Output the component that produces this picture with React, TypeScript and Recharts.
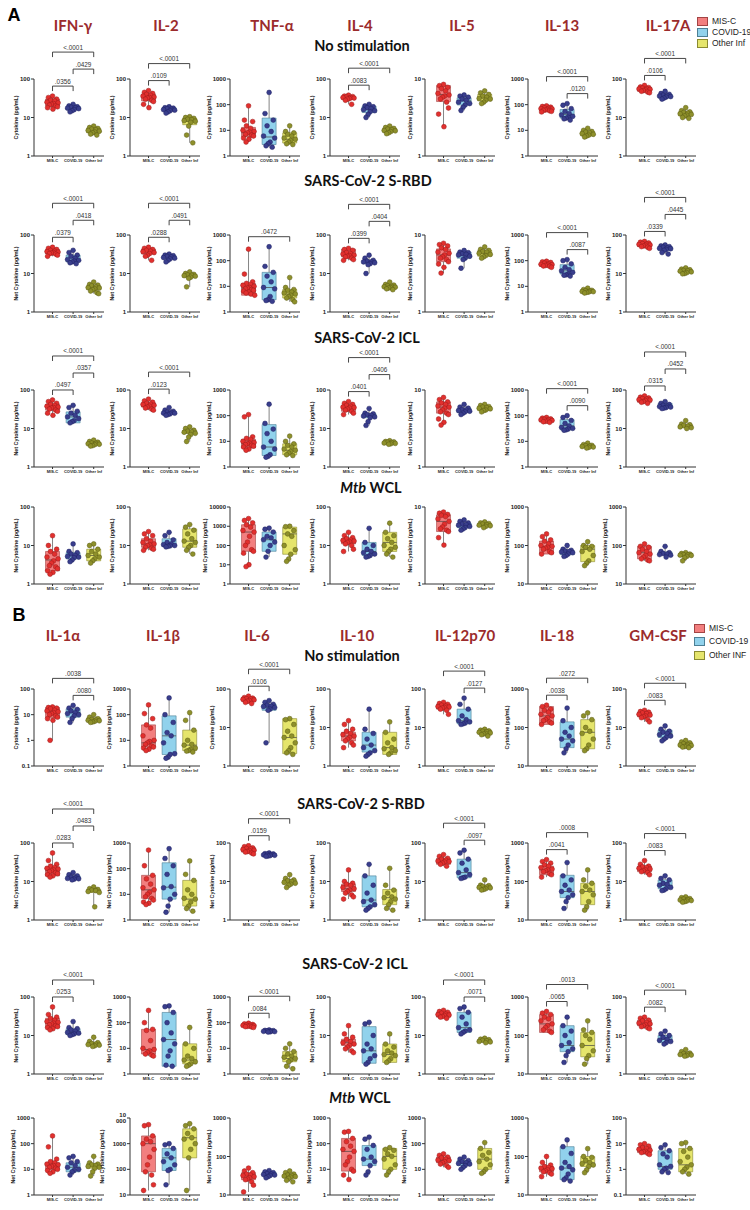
import React from 'react';
import { ComposedChart, XAxis, YAxis, Scatter, ReferenceArea, ReferenceLine } from 'recharts';

const groups = ['MIS-C', 'COVID-19', 'Other Inf'];
const cytokinesA = ['IFN-γ', 'IL-2', 'TNF-α', 'IL-4', 'IL-5', 'IL-13', 'IL-17A'];
const cytokinesB = ['IL-1α', 'IL-1β', 'IL-6', 'IL-10', 'IL-12p70', 'IL-18', 'GM-CSF'];
const stimuli = ['No stimulation', 'SARS-CoV-2 S-RBD', 'SARS-CoV-2 ICL', 'Mtb WCL'];
const legendA = ['MIS-C', 'COVID-19', 'Other Inf'];
const legendB = ['MIS-C', 'COVID-19', 'Other INF'];

type Sig = [number, number, number, string]; // cytokine, group from, group to, p value

// ---------- Panel A, no stimulation ----------
const A1_range = [[1, 100], [1, 100], [1, 1000], [1, 100], [1, 10], [1, 1000], [1, 100]];
const A1_misc = [
  [36, 33, 30, 28, 27, 25, 24, 23, 22, 21, 20, 19, 18, 16.5],
  [50, 45, 42, 40, 38, 36, 34, 33, 32, 30, 28, 26, 22, 18],
  [90, 25, 22, 15, 12, 10, 9, 8.5, 8, 7, 6.5, 6, 5, 4.5, 3.5],
  [38, 36, 35, 34, 33, 33, 32, 31, 30, 28, 22],
  [8.5, 8.2, 7.8, 7.5, 7, 6.5, 6.2, 6, 5.8, 5.5, 5, 4.2, 3.5, 2.4],
  [90, 85, 80, 75, 72, 70, 68, 65, 62, 60, 58, 55, 52],
  [68, 62, 60, 58, 56, 55, 54, 52, 50, 48, 46, 44],
];
const A1_covid = [
  [22, 20, 19, 18.5, 18, 17.5, 17, 16, 15, 14],
  [19, 18, 17.5, 17, 16.5, 16, 15.5, 15, 14, 13],
  [300, 45, 25, 15, 9, 6, 5, 3.5, 3, 2.5, 2.2],
  [22, 20, 19, 18, 17, 16, 15, 14, 12, 10],
  [6.2, 6, 5.8, 5.5, 5.3, 5, 4.8, 4.6, 4.3, 3.9],
  [110, 95, 70, 55, 45, 40, 35, 32, 30, 28, 25],
  [48, 42, 40, 38, 37, 36, 35, 34, 32, 30],
];
const A1_other = [
  [6, 5.5, 5.2, 5, 4.8, 4.6, 4.4, 4.2, 4, 3.7, 3.5],
  [10.5, 10, 9.5, 9, 8.8, 8.3, 8, 7.5, 6, 3.5, 2.2],
  [15, 9, 8, 7, 6, 5, 4.5, 4, 3.5, 3, 2.8],
  [6, 5.5, 5.2, 5, 4.8, 4.6, 4.5, 4.3, 4, 3.8],
  [7, 6.6, 6.3, 6, 5.8, 5.6, 5.5, 5.3, 5, 4.8],
  [12, 10, 9, 8.5, 8, 7.5, 7, 6.5, 6, 5.5],
  [18, 15, 14, 13.5, 13, 12.5, 12, 11.5, 11, 10, 9.5],
];
const A1_box = [
  [[20, 24, 30], [16, 18, 19.5], [4, 4.6, 5.3]],
  [[27, 33, 40], [15.5, 16.5, 18], [6.5, 8, 9.5]],
  [[5.7, 8, 13], [2.8, 5.5, 30], [3.2, 4.5, 8]],
  [[30, 33, 35], [13.5, 16, 19.5], [4.2, 4.6, 5.2]],
  [[5.1, 6.3, 8.2], [4.6, 5.2, 5.7], [5.2, 5.7, 6.3]],
  [[60, 68, 78], [30, 42, 65], [6, 7.5, 9]],
  [[48, 55, 60], [32, 36, 40], [11, 12.5, 14]],
];
const A1_sig: Sig[] = [
  [0, 0, 1, '.0356'], [0, 1, 2, '.0429'], [0, 0, 2, '<.0001'],
  [1, 0, 1, '.0109'], [1, 0, 2, '<.0001'],
  [3, 0, 1, '.0083'], [3, 0, 2, '<.0001'],
  [5, 1, 2, '.0120'], [5, 0, 2, '<.0001'],
  [6, 0, 1, '.0106'], [6, 0, 2, '<.0001'],
];

// ---------- Panel A, S-RBD ----------
const A2_range = [[1, 100], [1, 100], [1, 1000], [1, 100], [1, 10], [1, 1000], [1, 100]];
const A2_misc = [
  [48, 45, 42, 40, 38, 37, 36, 35, 34, 33, 32, 30, 28],
  [48, 45, 42, 40, 38, 37, 35, 33, 30, 28, 22],
  [280, 30, 15, 13, 12, 11, 10, 9, 8.5, 8, 7.5, 7, 6.5, 6, 5.5, 5, 4.5],
  [45, 42, 40, 35, 33, 32, 30, 29, 28, 27, 25, 23, 22],
  [7.8, 7.5, 7.2, 6.8, 6.5, 6, 5.8, 5.5, 5.2, 5, 4.8, 4.5, 4.2, 3.8, 3.2],
  [95, 90, 85, 80, 75, 72, 70, 68, 65, 62, 60, 55],
  [68, 65, 62, 60, 58, 57, 55, 54, 52, 50, 48, 45],
];
const A2_covid = [
  [40, 35, 30, 28, 25, 23, 22, 21, 20, 19, 18],
  [32, 30, 29, 28, 27, 26, 25, 24, 22, 20],
  [350, 60, 35, 25, 15, 9, 8, 4, 3, 2.8, 2.6],
  [30, 25, 22, 21, 20, 20, 19, 18, 17, 10],
  [6.3, 6, 5.9, 5.7, 5.6, 5.5, 5.3, 5, 4.8, 3.7],
  [110, 100, 75, 55, 45, 40, 35, 30, 28, 27, 25],
  [55, 52, 50, 48, 46, 45, 44, 42, 40, 35, 32],
];
const A2_other = [
  [6, 5.2, 5, 4.8, 4.5, 4.3, 4.2, 4, 3.8, 3.5, 3.2, 3],
  [11, 10, 9.5, 9.2, 9, 8.8, 8.5, 8, 7.5, 4.5],
  [22, 9, 7.5, 7, 6, 5.5, 5, 4.5, 4, 3.5, 3, 2.5],
  [6, 5.2, 5, 4.8, 4.6, 4.5, 4.4, 4.3, 4.2, 4, 3.8],
  [7, 6.5, 6.3, 6.1, 6, 5.8, 5.6, 5.4, 5.2, 5],
  [8.5, 7.5, 7, 6.8, 6.5, 6.3, 6.2, 6, 5.8, 5.5],
  [14, 13, 12.5, 12, 11.8, 11.5, 11, 10.5, 10, 9.8],
];
const A2_box = [
  [[33, 37, 42], [20, 22, 30], [3.8, 4.3, 4.8]],
  [[32, 38, 43], [24, 26, 29], [8, 8.8, 9.5]],
  [[4.5, 8.5, 13], [3, 9, 35], [3.5, 5, 7.5]],
  [[27, 30, 43], [18, 20, 22], [4.2, 4.5, 4.9]],
  [[4.5, 5.5, 6.6], [5, 5.6, 6], [5.3, 5.8, 6.3]],
  [[60, 68, 80], [30, 40, 70], [6, 6.5, 7]],
  [[50, 56, 62], [40, 45, 50], [10.5, 11.5, 12.5]],
];
const A2_sig: Sig[] = [
  [0, 0, 1, '.0379'], [0, 1, 2, '.0418'], [0, 0, 2, '<.0001'],
  [1, 0, 1, '.0288'], [1, 1, 2, '.0491'], [1, 0, 2, '<.0001'],
  [2, 0, 2, '.0472'],
  [3, 0, 1, '.0399'], [3, 1, 2, '.0404'], [3, 0, 2, '<.0001'],
  [5, 1, 2, '.0087'], [5, 0, 2, '<.0001'],
  [6, 0, 1, '.0339'], [6, 1, 2, '.0445'], [6, 0, 2, '<.0001'],
];

// ---------- Panel A, ICL ----------
const A3_range = [[1, 100], [1, 100], [1, 1000], [1, 100], [1, 10], [1, 1000], [1, 100]];
const A3_misc = [
  [55, 50, 45, 42, 40, 38, 36, 35, 34, 32, 30, 28, 25, 22],
  [58, 52, 48, 45, 43, 42, 40, 38, 36, 34, 32, 30],
  [110, 90, 15, 13, 12, 10, 9, 8.5, 8, 7.5, 7, 6.5, 6, 5, 4.5],
  [50, 45, 42, 40, 38, 36, 35, 34, 32, 30, 28, 25, 23],
  [8, 7.5, 7, 6.8, 6.5, 6.2, 6, 5.8, 5.5, 5.2, 5, 4.8, 4.2, 3.8, 3.5],
  [85, 80, 75, 72, 70, 68, 65, 62, 60, 58, 55],
  [70, 65, 62, 60, 58, 56, 55, 53, 50, 48, 45],
];
const A3_covid = [
  [40, 35, 28, 25, 22, 20, 18, 16, 15, 14],
  [35, 30, 28, 27, 26, 25, 25, 24, 23, 22],
  [280, 50, 30, 20, 10, 6, 5, 3, 2.6, 2.4],
  [33, 25, 24, 23, 22, 21, 20, 19, 15, 12],
  [6.5, 6, 5.8, 5.6, 5.5, 5.4, 5.3, 5.2, 5, 4.8],
  [100, 85, 65, 50, 40, 35, 32, 30, 28, 27],
  [50, 45, 42, 40, 38, 37, 36, 35, 34, 33],
];
const A3_other = [
  [5, 4.6, 4.4, 4.2, 4.1, 4, 3.9, 3.8, 3.6, 3.5],
  [11, 10, 9, 8.5, 8.2, 8, 7.5, 7, 6, 4.6],
  [16, 10, 8, 7, 6, 5, 4.5, 4, 3.5, 3, 2.8],
  [4.8, 4.6, 4.5, 4.4, 4.3, 4.2, 4.1, 4, 3.9],
  [6.5, 6.3, 6.1, 6, 5.9, 5.8, 5.7, 5.5, 5.4, 5.2],
  [8.5, 7.5, 7, 6.8, 6.5, 6.3, 6, 5.8, 5.5],
  [16, 13, 12.5, 12, 11.5, 11, 10.5, 10],
];
const A3_box = [
  [[30, 36, 42], [14, 20, 27], [3.9, 4.1, 4.4]],
  [[36, 40, 46], [24, 26, 28], [7.5, 8.2, 9]],
  [[5.5, 8, 12], [2.8, 6, 45], [3, 4.5, 8]],
  [[28, 35, 40], [19, 21, 24], [4.1, 4.3, 4.5]],
  [[5, 6, 7], [5.1, 5.4, 5.8], [5.4, 5.8, 6.1]],
  [[58, 65, 75], [28, 40, 70], [6, 6.5, 7]],
  [[48, 55, 60], [35, 38, 45], [10.5, 11.5, 12.5]],
];
const A3_sig: Sig[] = [
  [0, 0, 1, '.0497'], [0, 1, 2, '.0357'], [0, 0, 2, '<.0001'],
  [1, 0, 1, '.0123'], [1, 0, 2, '<.0001'],
  [3, 0, 1, '.0401'], [3, 1, 2, '.0406'], [3, 0, 2, '<.0001'],
  [5, 1, 2, '.0090'], [5, 0, 2, '<.0001'],
  [6, 0, 1, '.0315'], [6, 1, 2, '.0452'], [6, 0, 2, '<.0001'],
];

// ---------- Panel A, Mtb WCL ----------
const A4_range = [[1, 100], [1, 100], [1, 10000], [1, 100], [1, 10], [10, 1000], [10, 1000]];
const A4_misc = [
  [18, 10, 8, 7, 6, 5, 4.5, 4, 3.5, 3, 2.8, 2.5, 2.2, 2, 1.8],
  [23, 20, 18, 15, 13, 12, 11, 10.5, 10, 9, 8.5, 8, 7.5],
  [2500, 2000, 1500, 1200, 900, 600, 500, 300, 150, 100, 60, 50, 40, 10, 8],
  [22, 18, 16, 15, 14, 13.5, 13, 12.5, 12, 11, 10, 8, 7],
  [8.6, 8.3, 8, 7.8, 7.5, 7, 6.5, 6, 5.5, 5.2, 5, 4.8, 4, 3.2],
  [200, 170, 140, 130, 110, 100, 95, 90, 85, 80, 70, 65, 60],
  [110, 95, 90, 80, 70, 65, 60, 55, 50, 45, 42, 40],
];
const A4_covid = [
  [11, 7, 6.5, 6, 5.5, 5.2, 5, 4.8, 4.2, 3.8],
  [22, 18, 14, 12, 11, 10.5, 10, 9.8, 9.5, 9.2],
  [800, 700, 500, 300, 250, 200, 150, 100, 50, 25],
  [28, 12, 10, 8, 7, 6.5, 6, 5.5, 5.2, 5],
  [6.8, 6.5, 6.2, 6, 5.9, 5.8, 5.6, 5.4, 5.2, 5],
  [100, 80, 75, 72, 70, 68, 65, 60, 55, 52],
  [95, 70, 65, 62, 60, 58, 56, 50],
];
const A4_other = [
  [11, 10, 8, 7, 6, 5.5, 5, 4.5, 4, 3.5],
  [35, 30, 25, 20, 15, 13, 12, 10, 9, 7.5, 6],
  [1000, 950, 600, 400, 300, 100, 60, 35, 20, 15],
  [38, 22, 18, 15, 12, 10, 9, 8, 7, 6, 5],
  [6.4, 6.2, 6.1, 6, 5.9, 5.8, 5.7, 5.6, 5.4],
  [125, 100, 95, 90, 80, 70, 55, 40, 35, 30],
  [65, 62, 60, 58, 57, 56, 55, 52, 48, 40],
];
const A4_box = [
  [[2.2, 4.2, 7], [4.5, 5.5, 6.5], [4, 5.5, 8]],
  [[9, 11, 15], [9.5, 10.5, 15], [9, 13, 27]],
  [[50, 500, 1200], [50, 200, 500], [35, 400, 900]],
  [[11, 13, 15], [5.5, 7, 12], [7, 12, 22]],
  [[4.8, 6.5, 7.9], [5.4, 5.9, 6.2], [5.6, 5.9, 6.1]],
  [[60, 95, 130], [58, 68, 75], [38, 80, 100]],
  [[45, 65, 95], [58, 62, 68], [52, 58, 63]],
];
const A4_sig: Sig[] = [];

// ---------- Panel B, no stimulation ----------
const B1_range = [[0.1, 100], [1, 1000], [1, 100], [1, 100], [1, 100], [10, 1000], [1, 100]];
const B1_misc = [
  [20, 19, 18, 17, 15, 14, 13, 12, 11, 10, 9, 8, 7, 6, 1],
  [240, 110, 70, 40, 30, 15, 10, 9, 8, 7, 6, 5.5, 5, 4.5, 4],
  [65, 60, 58, 56, 55, 54, 52, 50, 48, 45, 42],
  [15, 12, 9, 8, 7, 6.5, 6, 5.5, 5, 4.5, 4, 3.5, 3],
  [45, 42, 40, 38, 36, 35, 34, 33, 32, 30, 28, 22],
  [380, 350, 300, 280, 250, 220, 200, 180, 160, 150, 140, 130, 120],
  [28, 26, 25, 24, 23, 22, 21, 20, 19, 18, 16, 14],
];
const B1_covid = [
  [23, 18, 16, 14, 12, 11, 10, 9, 7, 5],
  [450, 100, 50, 20, 15, 8, 3, 2.8, 2.2, 2],
  [50, 45, 40, 38, 36, 35, 33, 30, 28, 4],
  [30, 9, 7, 5, 3.5, 3, 2.5, 2.2, 2, 1.8],
  [58, 40, 30, 20, 16, 15, 14, 13, 12.5, 12],
  [320, 150, 100, 75, 60, 50, 45, 35, 28, 22],
  [11, 9, 8, 7.5, 7, 6.5, 6, 5.5, 5, 4.5],
];
const B1_other = [
  [10, 8, 7, 6.5, 6.2, 6, 5.8, 5.5, 5.2, 5],
  [120, 60, 25, 10, 7, 6.5, 5, 4.5, 4, 3.8, 3.5],
  [17, 16, 12, 8, 6, 5.5, 4, 3, 2.5, 2.2, 2],
  [14, 7.5, 5, 4, 3, 2.8, 2.5, 2.2, 2],
  [9, 8.5, 8.2, 8, 7.8, 7.5, 7.2, 7, 6.8, 6.5, 6],
  [240, 200, 160, 100, 80, 70, 50, 35, 28, 25],
  [4.6, 4.2, 4, 3.8, 3.6, 3.5, 3.4, 3.3, 3.2, 3.1, 3],
];
const B1_box = [
  [[7.5, 13, 19], [8, 12, 17], [5.5, 6, 7.5]],
  [[5.5, 8, 40], [2.8, 15, 90], [4, 6.5, 25]],
  [[48, 55, 60], [28, 34, 40], [2.1, 5.5, 17]],
  [[4.5, 6, 7.5], [2.3, 3.5, 7.5], [2, 3, 7.5]],
  [[30, 35, 40], [12.5, 15, 30], [7, 7.5, 8.5]],
  [[120, 200, 350], [30, 50, 140], [28, 75, 160]],
  [[19, 22, 25], [5.5, 7, 8.5], [3.1, 3.4, 4]],
];
const B1_sig: Sig[] = [
  [0, 1, 2, '.0080'], [0, 0, 2, '.0038'],
  [2, 0, 1, '.0106'], [2, 0, 2, '<.0001'],
  [4, 1, 2, '.0127'], [4, 0, 2, '<.0001'],
  [5, 0, 1, '.0038'], [5, 0, 2, '.0272'],
  [6, 0, 1, '.0083'], [6, 0, 2, '<.0001'],
];

// ---------- Panel B, S-RBD ----------
const B2_range = [[1, 100], [1, 1000], [1, 100], [1, 100], [1, 100], [10, 1000], [1, 100]];
const B2_misc = [
  [55, 35, 28, 25, 23, 22, 21, 20, 19, 18, 17, 16, 15, 14, 13],
  [530, 130, 55, 40, 25, 18, 15, 12, 10, 8, 7, 6, 5, 4.5, 4],
  [85, 80, 75, 72, 70, 68, 65, 63, 60, 58, 55, 52],
  [20, 10, 9, 8.5, 8, 7, 6.5, 6, 5.5, 5, 4.5, 4, 3.5],
  [50, 45, 40, 38, 36, 34, 33, 32, 30, 28, 25],
  [370, 330, 300, 270, 250, 230, 210, 200, 190, 180, 160, 150, 130],
  [35, 28, 25, 24, 23, 22, 21, 20, 19, 18, 17, 15],
];
const B2_covid = [
  [17, 15, 14, 13, 12.5, 12, 11.8, 11.5, 11],
  [600, 250, 130, 60, 20, 18, 10, 6.5, 3.5, 2],
  [55, 53, 52, 51, 50, 49, 48, 47, 46, 45],
  [28, 14, 8, 5, 3.3, 3, 2.5, 2.2, 2, 1.8],
  [65, 55, 38, 30, 20, 17, 15, 13, 12.5, 12],
  [310, 140, 110, 80, 60, 55, 45, 38, 30, 20],
  [14, 12, 11, 9, 8.5, 8, 7, 6.5, 6, 5.8],
];
const B2_other = [
  [7.2, 6.5, 6.2, 6, 5.8, 5.5, 5.2, 2.2],
  [200, 60, 35, 15, 10, 7, 6.5, 5, 3.5, 2.8, 2.2],
  [15, 12, 11, 10.5, 10, 9.5, 9, 8.5, 8, 7],
  [22, 8, 6, 5, 4, 3.8, 3.5, 3, 2.5, 2, 1.8],
  [11, 8, 7.8, 7.5, 7.2, 7, 6.8, 6.5, 6.2, 6],
  [200, 110, 90, 75, 60, 55, 45, 30, 22, 18],
  [4, 3.8, 3.6, 3.5, 3.4, 3.3, 3.2, 3.1, 3, 2.9],
];
const B2_box = [
  [[14, 19, 24], [11.5, 12, 14], [5.2, 5.8, 6.2]],
  [[7, 15, 55], [6.5, 19, 170], [3.5, 6.5, 35]],
  [[58, 65, 75], [46, 50, 53], [8.5, 10, 11]],
  [[5.5, 6.5, 8.5], [2.2, 3.3, 14], [2.5, 3.8, 6.2]],
  [[28, 33, 40], [12.5, 17, 38], [6.5, 7.2, 7.8]],
  [[150, 200, 250], [38, 55, 145], [25, 55, 90]],
  [[18, 21, 25], [6.5, 8, 11], [3.2, 3.4, 3.6]],
];
const B2_sig: Sig[] = [
  [0, 0, 1, '.0283'], [0, 1, 2, '.0483'], [0, 0, 2, '<.0001'],
  [2, 0, 1, '.0159'], [2, 0, 2, '<.0001'],
  [4, 1, 2, '.0097'], [4, 0, 2, '<.0001'],
  [5, 0, 1, '.0041'], [5, 0, 2, '.0008'],
  [6, 0, 1, '.0083'], [6, 0, 2, '<.0001'],
];

// ---------- Panel B, ICL ----------
const B3_range = [[1, 100], [1, 1000], [1, 1000], [1, 100], [1, 100], [10, 1000], [1, 100]];
const B3_misc = [
  [55, 35, 30, 28, 25, 23, 22, 21, 20, 19, 18, 17, 16, 15, 14],
  [300, 100, 55, 50, 20, 10, 9, 8, 7, 6, 5.5, 5],
  [95, 90, 85, 82, 80, 78, 76, 74, 72, 70, 68, 65],
  [18, 11, 9, 8, 7, 6.5, 6, 5.5, 5, 4.5, 4, 3.6],
  [45, 42, 40, 38, 36, 35, 34, 33, 31, 30, 28],
  [420, 380, 350, 300, 270, 240, 200, 180, 160, 140, 130, 120],
  [30, 28, 25, 24, 22, 21, 20, 19, 18, 17, 16, 15],
];
const B3_covid = [
  [23, 16, 15, 14, 13, 12, 11.5, 11, 10.5, 10],
  [450, 420, 250, 100, 40, 22, 15, 8, 5, 2.2, 2],
  [52, 50, 49, 48, 47, 46, 45, 44, 43],
  [22, 20, 10, 6, 4.5, 4, 3, 2.5, 2, 1.8],
  [55, 50, 40, 30, 20, 16, 14, 13, 12, 11],
  [300, 180, 130, 100, 65, 55, 45, 38, 30, 20],
  [13, 11, 10, 9, 8, 7.5, 7, 6.5, 6],
];
const B3_other = [
  [9, 7, 6.5, 6.2, 6, 5.8, 5.6, 5.4, 5.2],
  [65, 15, 10, 5, 4, 3.5, 3, 2.5, 2.2, 2],
  [15, 10, 7.5, 6, 5, 4.5, 4, 3.5, 3, 2, 1.6],
  [11, 6, 5, 4, 3.5, 3.2, 3, 2.5, 2.2, 2],
  [8.5, 8, 7.8, 7.5, 7.3, 7, 6.8, 6.5],
  [240, 140, 120, 100, 80, 55, 40, 30, 25, 18],
  [4.3, 3.8, 3.5, 3.4, 3.3, 3.2, 3.1, 3, 2.9],
];
const B3_box = [
  [[16, 21, 28], [10.5, 12, 15], [5.5, 6, 6.5]],
  [[6, 9, 55], [2, 22, 250], [2.5, 3.5, 15]],
  [[70, 78, 85], [44, 47, 50], [3, 4, 7.5]],
  [[5.5, 6.5, 8], [1.9, 4, 17], [2, 3.2, 6]],
  [[30, 35, 40], [12, 16, 40], [6.8, 7.3, 7.8]],
  [[120, 200, 350], [38, 55, 180], [28, 55, 120]],
  [[18, 20, 25], [6.5, 8, 10], [3, 3.2, 3.5]],
];
const B3_sig: Sig[] = [
  [0, 0, 1, '.0253'], [0, 0, 2, '<.0001'],
  [2, 0, 1, '.0084'], [2, 0, 2, '<.0001'],
  [4, 1, 2, '.0071'], [4, 0, 2, '<.0001'],
  [5, 0, 1, '.0065'], [5, 0, 2, '.0013'],
  [6, 0, 1, '.0082'], [6, 0, 2, '<.0001'],
];

// ---------- Panel B, Mtb WCL ----------
const B4_range = [[1, 1000], [10, 10000], [10, 1000], [1, 1000], [1, 1000], [10, 1000], [0.1, 100]];
const B4_misc = [
  [200, 75, 25, 20, 18, 16, 15, 14, 13, 12, 11, 10, 9, 8, 7],
  [5500, 5000, 2000, 1500, 1200, 1000, 600, 300, 150, 80, 60, 25, 15],
  [50, 42, 38, 35, 33, 32, 30, 28, 26, 25, 22, 18, 12],
  [300, 280, 160, 120, 80, 60, 50, 30, 20, 15, 10, 8.5, 6, 4],
  [40, 35, 30, 28, 25, 23, 22, 20, 18, 16, 14, 12],
  [100, 70, 60, 55, 52, 50, 48, 45, 42, 40, 38, 35, 30],
  [10, 9, 8, 7, 6.5, 6, 5.5, 5, 4.8, 4.5, 4.2, 3.8],
];
const B4_covid = [
  [32, 28, 20, 18, 14, 12, 10, 9, 8, 6],
  [1000, 900, 650, 400, 280, 200, 150, 100, 90, 25],
  [43, 40, 38, 36, 35, 34, 33, 32, 30, 28],
  [180, 150, 85, 60, 30, 25, 20, 14, 8, 6],
  [30, 25, 22, 20, 18, 17, 16, 14, 12, 10],
  [270, 180, 120, 70, 55, 50, 45, 35, 28, 25, 23],
  [9, 7, 5.3, 4, 3, 1.5, 1.3, 1.1, 1, 0.8, 0.75],
];
const B4_other = [
  [32, 18, 16, 15, 14, 13, 12, 11, 8, 5.5],
  [6000, 5000, 3800, 2500, 1700, 1500, 1000, 600, 280, 15],
  [42, 38, 35, 33, 32, 31, 30, 29, 27, 24, 22],
  [70, 60, 55, 40, 32, 25, 15, 10, 8, 6],
  [110, 65, 45, 35, 25, 20, 15, 10, 8, 7],
  [160, 100, 95, 80, 70, 65, 60, 55, 45, 38],
  [11, 10, 6.5, 5, 3, 2, 1.5, 1.2, 1, 0.8, 0.65],
];
const B4_box = [
  [[10, 15, 18], [8, 12, 18], [11, 14, 17]],
  [[80, 1000, 2000], [90, 280, 650], [280, 1700, 3800]],
  [[25, 32, 38], [32, 35, 39], [28, 31, 34]],
  [[8.5, 50, 160], [14, 25, 85], [10, 32, 65]],
  [[18, 22, 30], [14, 17, 22], [10, 25, 65]],
  [[40, 48, 55], [25, 50, 180], [55, 68, 100]],
  [[4.5, 5.5, 7], [1, 1.3, 5.3], [0.8, 1.5, 6.5]],
];
const B4_sig: Sig[] = [];

// ---------- layout & style ----------
const FONT = '"Liberation Sans", Arial, sans-serif';
const TITLE_FONT = 'Lato, "Open Sans", sans-serif';
const TITLE_RED = '#9B2B2C';
const BOX_FILL = ['#F27F7F', '#91D2EC', '#E5E56C'];
const BOX_EDGE = ['#A34444', '#4C7F95', '#8A8A30'];
const DOT_FILL = ['#E2302E', '#393E8C', '#8E902B'];
const DOT_EDGE = ['#9A1A1A', '#1E2163', '#5A5B12'];
const JITTER = [0, -0.2, 0.2, -0.1, 0.1, -0.27, 0.27, 0.05, -0.05, -0.15, 0.15, 0.24, -0.24, 0.02, -0.12, 0.12, 0.3];

const PH = 77;
const MT = 62;
const XH = 14;
const YW = 36;
const PW = 70;
const W = YW + PW + 2;
const H = MT + PH + XH;
const BW = 0.34;
const COL_AXIS = [34, 130, 230, 330, 425, 528, 626];
const TOP_A = [79, 235, 390, 507];
const TOP_B = [689, 843, 997, 1118];

const fmtTick = (v: number, spaced: boolean) =>
  v >= 10000 ? (spaced ? '10 000' : '10000') : v < 1 ? String(v) : String(Math.round(v));

function Mini({ range, dots, box, sigs, yTitle, spaced }: {
  range: number[]; dots: number[][]; box: number[][]; sigs: Sig[]; yTitle: string; spaced: boolean;
}) {
  const [lo, hi] = range;
  const ticks: number[] = [];
  for (let e = Math.round(Math.log10(lo)); e <= Math.round(Math.log10(hi)); e++) ticks.push(Math.pow(10, e));
  const decPerPx = Math.log10(hi / lo) / PH;
  const lift = (v: number, px: number) => Math.pow(10, Math.log10(v) + px * decPerPx);
  const dataMax = Math.max(...dots.flat());
  const maxLen = Math.max(...ticks.map((t) => fmtTick(t, spaced).length));
  const titleX = YW - (8 + 3.3 * maxLen);

  return (
    <ComposedChart width={W} height={H} margin={{ top: MT, right: 2, bottom: 0, left: 0 }}>
      <XAxis
        type="number"
        dataKey="x"
        domain={[0.1, 3.5]}
        allowDataOverflow
        ticks={[1, 2, 3]}
        interval={0}
        tickFormatter={(v: number) => groups[v - 1]}
        tick={{ fontSize: 4, fontWeight: 700, fill: '#222' }}
        tickSize={2}
        tickMargin={1}
        height={XH}
        stroke="#333"
      />
      <YAxis
        type="number"
        dataKey="y"
        scale="log"
        domain={range}
        allowDataOverflow
        ticks={ticks}
        interval={0}
        tickFormatter={(v: number) => fmtTick(v, spaced)}
        width={YW}
        tick={{ fontSize: 6, fontWeight: 700, fill: '#222' }}
        tickSize={3}
        tickMargin={1}
        stroke="#333"
        label={{
          value: yTitle,
          angle: -90,
          position: 'insideLeft',
          offset: titleX,
          fontSize: 5.4,
          fontWeight: 700,
          fill: '#222',
          style: { textAnchor: 'middle' },
        }}
      />
      {box.map(([q1, , q3], g) => (
        <ReferenceArea
          key={'box' + g}
          x1={g + 1 - BW}
          x2={g + 1 + BW}
          y1={q1}
          y2={q3}
          fill={BOX_FILL[g]}
          fillOpacity={1}
          stroke={BOX_EDGE[g]}
          strokeWidth={0.6}
          ifOverflow="visible"
        />
      ))}
      {dots.map((vals, g) => (
        <ReferenceLine
          key={'wl' + g}
          segment={[{ x: g + 1, y: Math.min(...vals) }, { x: g + 1, y: box[g][0] }]}
          stroke="#666"
          strokeWidth={0.8}
          ifOverflow="visible"
        />
      ))}
      {dots.map((vals, g) => (
        <ReferenceLine
          key={'wh' + g}
          segment={[{ x: g + 1, y: box[g][2] }, { x: g + 1, y: Math.max(...vals) }]}
          stroke="#666"
          strokeWidth={0.8}
          ifOverflow="visible"
        />
      ))}
      {box.map(([, med], g) => (
        <ReferenceLine
          key={'md' + g}
          segment={[{ x: g + 1 - BW, y: med }, { x: g + 1 + BW, y: med }]}
          stroke="#444"
          strokeWidth={0.7}
          ifOverflow="visible"
        />
      ))}
      {dots.map((vals, g) => (
        <Scatter
          key={'pts' + g}
          data={vals.map((v, i) => ({ x: g + 1 + JITTER[i % JITTER.length], y: v }))}
          isAnimationActive={false}
          shape={(p: any) => (
            <circle cx={p.cx} cy={p.cy} r={2.4} fill={DOT_FILL[g]} stroke={DOT_EDGE[g]} strokeWidth={0.5} />
          )}
        />
      ))}
      {sigs.map(([, a, b, label], k) => {
        const yl = lift(dataMax, 10 + 17 * k);
        const yt = lift(yl, -5);
        return (
          <React.Fragment key={'sig' + k}>
            <ReferenceLine
              segment={[{ x: a + 1, y: yl }, { x: b + 1, y: yl }]}
              stroke="#333"
              strokeWidth={0.9}
              ifOverflow="visible"
              label={{ value: label, position: 'top', offset: 2.5, fontSize: 6.4, fill: '#333' }}
            />
            <ReferenceLine segment={[{ x: a + 1, y: yl }, { x: a + 1, y: yt }]} stroke="#333" strokeWidth={0.9} ifOverflow="visible" />
            <ReferenceLine segment={[{ x: b + 1, y: yl }, { x: b + 1, y: yt }]} stroke="#333" strokeWidth={0.9} ifOverflow="visible" />
          </React.Fragment>
        );
      })}
    </ComposedChart>
  );
}

type RowData = {
  range: number[][]; misc: number[][]; covid: number[][]; other: number[][]; box: number[][][]; sig: Sig[];
};

const rowsA: RowData[] = [
  { range: A1_range, misc: A1_misc, covid: A1_covid, other: A1_other, box: A1_box, sig: A1_sig },
  { range: A2_range, misc: A2_misc, covid: A2_covid, other: A2_other, box: A2_box, sig: A2_sig },
  { range: A3_range, misc: A3_misc, covid: A3_covid, other: A3_other, box: A3_box, sig: A3_sig },
  { range: A4_range, misc: A4_misc, covid: A4_covid, other: A4_other, box: A4_box, sig: A4_sig },
];
const rowsB: RowData[] = [
  { range: B1_range, misc: B1_misc, covid: B1_covid, other: B1_other, box: B1_box, sig: B1_sig },
  { range: B2_range, misc: B2_misc, covid: B2_covid, other: B2_other, box: B2_box, sig: B2_sig },
  { range: B3_range, misc: B3_misc, covid: B3_covid, other: B3_other, box: B3_box, sig: B3_sig },
  { range: B4_range, misc: B4_misc, covid: B4_covid, other: B4_other, box: B4_box, sig: B4_sig },
];

function Row({ row, top, first, spaced }: { row: RowData; top: number; first: boolean; spaced: boolean }) {
  return (
    <>
      {row.range.map((range, c) => (
        <div key={c} style={{ position: 'absolute', left: COL_AXIS[c] - YW, top: top - MT }}>
          <Mini
            range={range}
            dots={[row.misc[c], row.covid[c], row.other[c]]}
            box={row.box[c]}
            sigs={row.sig.filter((s) => s[0] === c)}
            yTitle={first ? 'Cytokine (pg/mL)' : 'Net Cytokine (pg/mL)'}
            spaced={spaced}
          />
        </div>
      ))}
    </>
  );
}

const centered = (x: number, y: number): React.CSSProperties => ({
  position: 'absolute',
  left: x,
  top: y,
  transform: 'translate(-50%, -50%)',
  whiteSpace: 'nowrap',
});

function StimTitle({ text, x, y }: { text: string; x: number; y: number }) {
  const parts = text.startsWith('Mtb') ? (
    <>
      <i>Mtb</i>
      {text.slice(3)}
    </>
  ) : (
    text
  );
  return (
    <div style={{ ...centered(x, y), fontFamily: TITLE_FONT, fontWeight: 700, fontSize: 14.5, color: '#111' }}>{parts}</div>
  );
}

function Legend({ labels, x, ys }: { labels: string[]; x: number; ys: number[] }) {
  return (
    <>
      {labels.map((l, i) => (
        <div
          key={l}
          style={{
            position: 'absolute',
            left: x,
            top: ys[i] - 6,
            width: 60,
            display: 'flex',
            alignItems: 'center',
            height: 12,
            whiteSpace: 'nowrap',
          }}
        >
          <div style={{ width: 9, height: 7, flex: 'none', background: BOX_FILL[i], border: `1px solid ${BOX_EDGE[i]}`, marginRight: 4 }} />
          <span style={{ fontFamily: FONT, fontSize: 8.5, color: '#222' }}>{l}</span>
        </div>
      ))}
    </>
  );
}

const TITLE_X_A = [73, 166, 272, 360, 462, 562, 668];
const TITLE_X_B = [63, 163, 257, 357, 465, 557, 658];
const STIM_POS_A = [[362, 45], [368, 180], [367, 337], [371, 487]];
const STIM_POS_B = [[352, 655], [361, 803], [355, 963], [360, 1097]];

export default function App() {
  return (
    <div
      style={{
        position: 'absolute',
        left: 0,
        top: 0,
        width: 750,
        height: 1210,
        background: '#fff',
        fontFamily: FONT,
        overflow: 'hidden',
      }}
    >
      <div style={{ ...centered(14, 15), fontFamily: FONT, fontWeight: 700, fontSize: 18 }}>A</div>
      <div style={{ ...centered(19, 615), fontFamily: FONT, fontWeight: 700, fontSize: 18 }}>B</div>

      {cytokinesA.map((c, i) => (
        <div key={c} style={{ ...centered(TITLE_X_A[i], 25), fontFamily: TITLE_FONT, fontWeight: 700, fontSize: 15, color: TITLE_RED }}>
          {c}
        </div>
      ))}
      {cytokinesB.map((c, i) => (
        <div key={c} style={{ ...centered(TITLE_X_B[i], 635), fontFamily: TITLE_FONT, fontWeight: 700, fontSize: 15, color: TITLE_RED }}>
          {c}
        </div>
      ))}

      {stimuli.map((s, i) => (
        <StimTitle key={'a' + s} text={s} x={STIM_POS_A[i][0]} y={STIM_POS_A[i][1]} />
      ))}
      {stimuli.map((s, i) => (
        <StimTitle key={'b' + s} text={s} x={STIM_POS_B[i][0]} y={STIM_POS_B[i][1]} />
      ))}

      <Legend labels={legendA} x={697} ys={[21, 32, 43]} />
      <Legend labels={legendB} x={694} ys={[628, 641, 655]} />

      {rowsA.map((row, r) => (
        <Row key={'A' + r} row={row} top={TOP_A[r]} first={r === 0} spaced={false} />
      ))}
      {rowsB.map((row, r) => (
        <Row key={'B' + r} row={row} top={TOP_B[r]} first={r === 0} spaced={true} />
      ))}
    </div>
  );
}
